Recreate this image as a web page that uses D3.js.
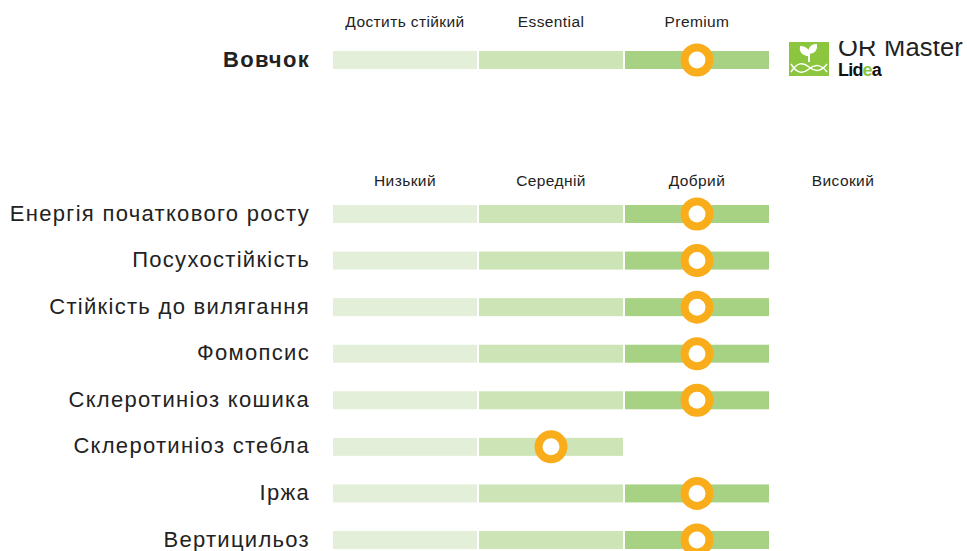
<!DOCTYPE html>
<html>
<head>
<meta charset="utf-8">
<script src="https://cdn.jsdelivr.net/npm/d3@7"></script>
<style>
  body { margin: 0; background: #fff; }
  svg { display: block; font-family: "Liberation Sans", Arial, sans-serif; }
</style>
</head>
<body>
<svg width="967" height="551"></svg>
<script>
// top block: product class
const topCategories = ['Достить стійкий', 'Essential', 'Premium'];
const topLabel = 'Вовчок';
const topValue = 3; // Premium

// trait block
const levels = ['Низький', 'Середній', 'Добрий', 'Високий'];
const traits = [
  'Енергія початкового росту',
  'Посухостійкість',
  'Стійкість до вилягання',
  'Фомопсис',
  'Склеротиніоз кошика',
  'Склеротиніоз стебла',
  'Іржа',
  'Вертицильоз'
];
const traitValues = [3, 3, 3, 3, 3, 2, 3, 3];

const segColors = ['#e3efd9', '#cde4b7', '#a8d283'];
const markColor = '#f9ad1b';

const svg = d3.select('svg');

const barH = 18;
const labelX = 310;

// band scales share the same step
const xTop = d3.scaleBand().domain(topCategories).range([332, 770]);
const xLevel = d3.scaleBand().domain(levels).range([332, 916]);
const yTrait = d3.scalePoint().domain(traits).range([214, 540]);
const yTop = 60;

const drawRow = (g, scale, cats, value, cy) => {
    const filled = cats.slice(0, value);
    g.selectAll('rect').data(filled).enter().append('rect')
        .attr('x', d => scale(d) + 1)
        .attr('y', cy - barH / 2)
        .attr('width', scale.bandwidth() - 2)
        .attr('height', barH)
        .attr('fill', (d, i) => segColors[i]);
    g.append('circle')
        .attr('cx', scale(cats[value - 1]) + scale.bandwidth() / 2)
        .attr('cy', cy)
        .attr('r', 12.5)
        .attr('fill', '#fff')
        .attr('stroke', markColor)
        .attr('stroke-width', 8);
};

// headers
const header = (data, scale, y) => svg.append('g').selectAll('text').data(data).enter().append('text')
    .attr('x', d => scale(d) + scale.bandwidth() / 2)
    .attr('y', y)
    .attr('text-anchor', 'middle')
    .attr('font-size', 15.5)
    .attr('letter-spacing', 0.4)
    .attr('fill', '#222')
    .text(d => d);
header(topCategories, xTop, 27);
header(levels, xLevel, 186);

// top row
svg.append('text')
    .attr('x', labelX)
    .attr('y', yTop)
    .attr('dy', '0.3em')
    .attr('text-anchor', 'end')
    .attr('font-size', 22)
    .attr('letter-spacing', 1.3)
    .attr('font-weight', 'bold')
    .attr('fill', '#222')
    .text(topLabel);
drawRow(svg.append('g'), xTop, topCategories, topValue, yTop);

// trait rows
traits.forEach((t, i) => {
    const cy = yTrait(t);
    svg.append('text')
        .attr('x', labelX)
        .attr('y', cy)
        .attr('dy', '0.3em')
        .attr('text-anchor', 'end')
        .attr('font-size', 22)
        .attr('letter-spacing', 1.3)
        .attr('fill', '#222')
        .text(t);
    drawRow(svg.append('g'), xLevel, levels, traitValues[i], cy);
});

// logo (clipped at the top like the source image)
const logo = svg.append('g');
svg.append('defs').append('clipPath').attr('id', 'logoClip')
  .append('rect').attr('x', 780).attr('y', 41).attr('width', 187).attr('height', 50);
logo.attr('clip-path', 'url(#logoClip)');
logo.append('rect')
    .attr('x', 789).attr('y', 42).attr('width', 40).attr('height', 34)
    .attr('fill', '#8cc63f');
// sprout
logo.append('path')
    .attr('d', 'M809,62 L809,50 M809,55 C803,55 800,51 801,47 C806,47 809,51 809,55 M809,53 C814,53 817,49 816,45 C811,45 809,49 809,53')
    .attr('stroke', '#fff').attr('stroke-width', 2).attr('fill', '#fff');
// dna helix
logo.append('path')
    .attr('d', 'M791,64 C797,74 803,74 809,69 C815,64 821,64 827,72 M791,72 C797,62 803,62 809,67 C815,72 821,72 827,64')
    .attr('stroke', '#fff').attr('stroke-width', 1.5).attr('fill', 'none');
logo.append('text')
    .attr('x', 838).attr('y', 56)
    .attr('font-size', 25.5)
    .attr('letter-spacing', 0.2)
    .attr('fill', '#222')
    .text('OR Master');
const lidea = logo.append('text')
    .attr('x', 838).attr('y', 76)
    .attr('font-size', 18)
    .attr('font-weight', 'bold')
    .attr('letter-spacing', -0.8)
    .attr('fill', '#111');
lidea.append('tspan').text('Lid');
lidea.append('tspan').attr('fill', '#8cc63f').text('e');
lidea.append('tspan').text('a');
</script>
</body>
</html>
